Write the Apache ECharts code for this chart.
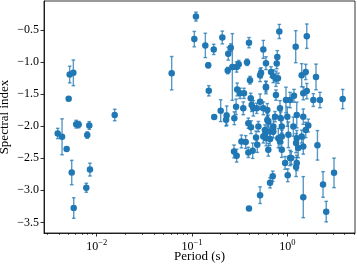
<!DOCTYPE html>
<html><head><meta charset="utf-8">
<script src="https://cdn.jsdelivr.net/npm/echarts@6/dist/echarts.min.js"></script>
<style>html,body{margin:0;padding:0;background:#fff}#c{width:357px;height:265px}</style>
</head><body><div id="c"></div>
<script>
// Period (s)
const period = [
 0.0039,0.00433,0.00484,0.00508,0.00521,0.00569,0.00547,0.00574,0.0061,0.00647,0.00778,0.00796,0.00836,0.0085,0.01545,0.0612,
 0.110,0.1057,0.138,0.169,0.208,0.148,0.240,0.255,0.265,0.237,0.294,0.309,0.378,0.396,0.56,0.597,0.53,0.824,0.785,0.774,1.225,1.60,
 0.675,0.713,0.798,1.415,1.56,2.0,0.150,0.171,0.200,0.231,0.278,0.298,0.29,0.319,0.345,0.406,0.413,0.423,0.44,0.477,0.39,0.416,
 0.497,0.366,0.484,0.47,0.276,0.39,0.433,0.518,0.56,0.583,0.617,0.597,0.617,0.76,0.838,0.968,1.067,1.175,1.6,1.875,2.2,3.81,
 0.743,0.853,1.0,1.256,1.47,1.66,1.56,1.157,0.875,0.713,0.632,0.583,0.659,0.713,0.56,0.6,0.805,0.875,1.026,1.256,1.416,0.838,
 1.236,1.47,2.07,0.632,0.875,1.30,0.294,0.396,0.518,0.659,0.948,1.067,1.1,1.256,1.236,1.01,0.703,1.47,2.37,3.09,2.56,0.33,0.659,
 0.351,0.518,0.597,0.76,0.228,1.47
];
// Spectral index
const specIndex = [
 -2.115,-2.167,-2.357,-1.574,-1.197,-1.17,-2.724,-3.277,-1.97,-1.977,-2.961,-2.14,-1.99,-2.678,-1.827,-1.176,
 -0.294,-0.645,-0.743,-0.805,-0.62,-1.053,-0.872,-0.779,-1.079,-1.135,-1.079,-1.037,-1.006,-0.70,-0.805,-1.02,-1.17,-0.526,-0.924,-1.026,-0.763,-0.599,
 -1.156,-1.223,-1.254,-1.207,-1.156,-1.234,-1.45,-1.857,-1.76,-1.837,-1.878,-1.429,-1.70,-1.49,-1.723,-1.285,-1.568,-1.672,-1.723,-1.723,-1.955,-2.017,
 -2.008,-2.249,-2.29,-2.178,-2.395,-2.41,-2.384,-1.62,-1.723,-2.136,-1.904,-1.388,-1.749,-1.517,-1.723,-1.594,-1.594,-1.528,-1.455,-1.594,-1.594,-1.579,
 -1.853,-1.878,-1.853,-1.827,-1.853,-1.992,-2.06,-2.008,-2.008,-2.008,-1.93,-2.06,-2.085,-2.085,-2.163,-2.188,-2.188,-2.163,-2.136,-2.188,-2.163,-2.24,
 -2.265,-2.317,-2.3,-2.368,-2.368,-2.342,-2.461,-3.286,-3.076,-2.884,-2.574,-2.497,-2.497,-2.574,-2.636,-2.766,-2.782,-3.107,-2.91,-2.729,-3.333,-2.24,-2.203,
 -1.49,-1.207,-1.398,-1.262,-1.9,-1.49
];
// Error (half-length of error bar)
const indexErr = [
 0.08,0.28,0.02,0.02,0.13,0.2,0.19,0.16,0.06,0.05,0.07,0.05,0.06,0.1,0.09,0.26,
 0.07,0.12,0.19,0.08,0.1,0.04,0.1,0.06,0.52,0.05,0.08,0.06,0.05,0.08,0.14,0.1,0.08,0.11,0.1,0.08,0.25,0.19,
 0.08,0.1,0.08,0.18,0.12,0.2,0.08,0.03,0.17,0.15,0.1,0.1,0.12,0.08,0.1,0.06,0.08,0.1,0.12,0.08,0.08,0.1,
 0.08,0.1,0.12,0.1,0.1,0.08,0.12,0.12,0.1,0.08,0.1,0.08,0.1,0.08,0.12,0.2,0.12,0.1,0.12,0.1,0.12,0.15,
 0.08,0.1,0.15,0.2,0.12,0.1,0.12,0.15,0.1,0.12,0.1,0.08,0.12,0.1,0.1,0.12,0.15,0.1,0.2,0.12,0.1,0.1,
 0.15,0.12,0.23,0.1,0.12,0.15,0.1,0.02,0.13,0.08,0.1,0.12,0.1,0.12,0.15,0.1,0.08,0.32,0.2,0.23,0.16,0.1,0.1,
 0.08,0.1,0.1,0.12,0.1,0.1
];
const xMajorTicks = [0.01, 0.1, 1];
const xMinorTicks = [0.003,0.004,0.005,0.006,0.007,0.008,0.009,0.02,0.03,0.04,0.05,0.06,0.07,0.08,0.09,0.2,0.3,0.4,0.5,0.6,0.7,0.8,0.9,2,3,4,5];
const yTicks = [-3.5,-3.0,-2.5,-2.0,-1.5,-1.0,-0.5];
const xLabel = 'Period (s)';
const yLabel = 'Spectral index';

const FONT = 'Liberation Serif';
const color = '#1f77b4';
const pts = period.map((p,i)=>[p, specIndex[i], indexErr[i]]);
const xMin = 0.0028, xMax = 5.13, yMin = -3.666, yMax = -0.051;
const expStr = v => { const e = Math.round(Math.log10(v)); return '{b|10}{s|' + (e<0?'\u2212':'') + Math.abs(e) + '}'; };

const chart = echarts.init(document.getElementById('c'), null, {renderer:'canvas'});
chart.setOption({
  animation:false,
  grid:{left:44,right:2,top:1,bottom:32,containLabel:false,outerBoundsMode:'none',
        show:true,borderColor:'#000',borderWidth:0.8,backgroundColor:'transparent'},
  xAxis:[{
    type:'log', logBase:10, min:xMin, max:xMax, position:'bottom',
    name:xLabel, nameLocation:'middle', nameGap:17, nameMoveOverlap:false,
    nameTextStyle:{fontFamily:FONT,fontSize:13,color:'#000'},
    axisLine:{show:true,lineStyle:{color:'#000',width:0.8}},
    axisTick:{show:true,inside:false,length:3.5,lineStyle:{color:'#000',width:0.8},customValues:xMajorTicks},
    axisLabel:{show:true,margin:5,customValues:xMajorTicks,formatter:expStr,
      rich:{b:{fontFamily:FONT,fontSize:12,color:'#000',verticalAlign:'bottom'},
            s:{fontFamily:FONT,fontSize:8.5,color:'#000',verticalAlign:'bottom',padding:[0,0,6,0]}}},
    splitLine:{show:false}, minorTick:{show:false}, minorSplitLine:{show:false}
  },{
    type:'log', logBase:10, min:xMin, max:xMax, position:'bottom', offset:0,
    axisLine:{show:false},
    axisTick:{show:true,inside:false,length:2,lineStyle:{color:'#000',width:0.6},customValues:xMinorTicks},
    axisLabel:{show:false}, splitLine:{show:false}
  }],
  yAxis:{
    type:'value', min:yMin, max:yMax,
    name:yLabel, nameLocation:'middle', nameGap:33, nameMoveOverlap:false,
    nameTextStyle:{fontFamily:FONT,fontSize:13,color:'#000'},
    axisLine:{show:true,lineStyle:{color:'#000',width:0.8}},
    axisTick:{show:true,inside:false,length:3.5,lineStyle:{color:'#000',width:0.8},customValues:yTicks},
    axisLabel:{show:true,margin:5,customValues:yTicks,fontFamily:FONT,fontSize:12,color:'#000',
      formatter:v=>(v<0?'\u2212':'')+Math.abs(v).toFixed(1)},
    splitLine:{show:false}
  },
  series:[{
    type:'custom', xAxisIndex:0, yAxisIndex:0,
    data:pts,
    renderItem:(params, api)=>{
      const x=api.value(0), y=api.value(1), e=api.value(2);
      const a=api.coord([x,y-e]), b=api.coord([x,y+e]);
      const cap=1.8;
      const st={stroke:'rgba(31,119,180,0.75)',lineWidth:1.4};
      return {type:'group',children:[
        {type:'line',shape:{x1:a[0],y1:a[1],x2:b[0],y2:b[1]},style:st},
        {type:'line',shape:{x1:a[0]-cap,y1:a[1],x2:a[0]+cap,y2:a[1]},style:st},
        {type:'line',shape:{x1:b[0]-cap,y1:b[1],x2:b[0]+cap,y2:b[1]},style:st}
      ]};
    },
    z:2
  },{
    type:'scatter', xAxisIndex:0, yAxisIndex:0,
    data:pts.map(p=>[p[0],p[1]]),
    symbol:'circle', symbolSize:6.5,
    itemStyle:{color:color,opacity:1},
    z:3
  }]
});
</script></body></html>
